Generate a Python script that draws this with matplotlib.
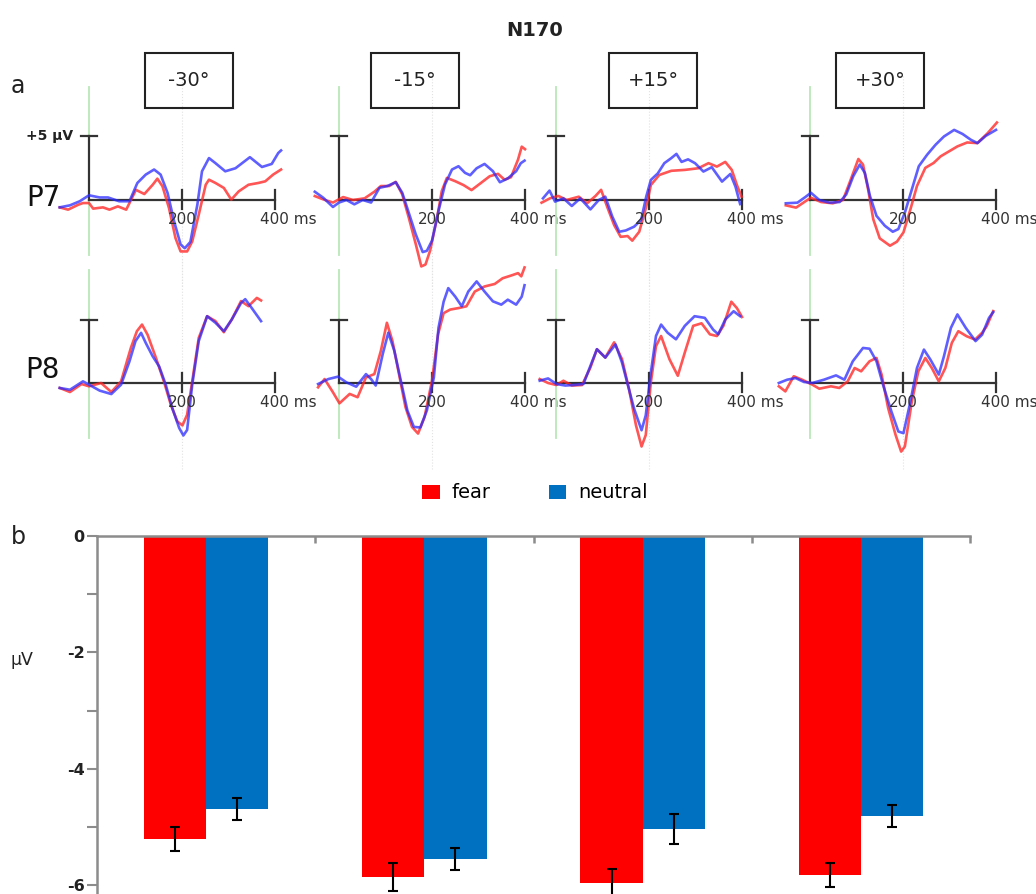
import matplotlib.pyplot as plt
from matplotlib.patches import Rectangle

plt.rcParams['font.family'] = 'DejaVu Sans'
plt.rcParams['axes.unicode_minus'] = False

W, H = 1036, 894

angles = ["-30°", "-15°", "+15°", "+30°"]
sites = ["P7", "P8"]

# ERP waveforms, (ms, µV)
p7_m30_fear = [(-63, -0.58), (-45, -0.76), (-23, -0.37), (-13, -0.24), (0, -0.24), (9, -0.68),
               (30, -0.58), (44, -0.76), (62, -0.5), (80, -0.76), (101, 0.8), (119, 0.47),
               (137, 1.2), (147, 1.68), (158, 1.08), (172, -0.63), (186, -3.0), (197, -4.05),
               (211, -4.05), (222, -3.26), (236, -1.16), (251, 1.2), (258, 1.6), (272, 1.34),
               (290, 0.95), (306, 0.03), (322, 0.68), (343, 1.2), (364, 1.34), (379, 1.47),
               (396, 2.0), (413, 2.4)]
p7_m30_neutral = [(-63, -0.58), (-41, -0.42), (-20, -0.1), (0, 0.37), (23, 0.2), (41, 0.2),
                  (65, -0.1), (87, -0.1), (104, 1.34), (122, 2.0), (140, 2.4), (154, 2.0),
                  (169, 0.55), (183, -1.68), (197, -3.5), (206, -3.8), (218, -3.3), (233, -0.37),
                  (243, 2.26), (258, 3.3), (272, 2.9), (293, 2.26), (315, 2.5), (346, 3.37),
                  (372, 2.6), (393, 2.84), (407, 3.7), (413, 3.9)]
p8_m30_fear = [(-63, -0.39), (-41, -0.71), (-16, -0.08), (0, -0.26), (26, 0.0), (48, -0.71),
               (69, 0.13), (90, 2.76), (103, 4.08), (114, 4.6), (126, 3.8), (144, 1.97),
               (161, 0.13), (176, -1.71), (190, -3.03), (201, -3.34), (211, -2.5), (222, 0.13),
               (236, 3.55), (254, 5.26), (272, 4.87), (290, 4.0), (307, 5.0), (327, 6.45),
               (343, 6.05), (361, 6.7), (370, 6.5)]
p8_m30_neutral = [(-63, -0.39), (-41, -0.53), (-13, 0.13), (0, -0.13), (23, -0.6), (48, -0.87),
                  (69, -0.13), (87, 1.7), (100, 3.3), (112, 3.95), (122, 3.16), (137, 2.1),
                  (151, 1.3), (165, -0.13), (179, -1.97), (194, -3.55), (203, -4.13), (211, -3.7),
                  (222, -0.13), (236, 3.3), (254, 5.26), (272, 4.74), (290, 4.08), (307, 5.0),
                  (327, 6.3), (336, 6.6), (350, 5.9), (370, 4.87)]

p7_m15_fear = [(-52, 0.31), (-34, 0.05), (-13, -0.2), (9, 0.23), (30, 0.0), (55, 0.13),
               (76, 0.65), (90, 1.1), (108, 1.1), (122, 1.43), (136, 0.44), (150, -1.38),
               (165, -3.46), (177, -5.23), (186, -5.08), (196, -3.98), (211, -1.38), (221, 0.7),
               (232, 1.74), (250, 1.48), (268, 1.17), (285, 0.78), (303, 1.28), (324, 1.87),
               (342, 2.06), (356, 1.6), (370, 1.8), (385, 3.18), (393, 4.2), (400, 4.0)]
p7_m15_neutral = [(-52, 0.65), (-34, 0.18), (-13, -0.55), (0, -0.2), (16, 0.0), (33, -0.34),
                  (51, 0.0), (69, -0.2), (87, 0.96), (104, 1.1), (122, 1.4), (136, 0.57),
                  (150, -1.0), (165, -2.7), (180, -4.1), (189, -4.0), (200, -3.2), (214, -0.86),
                  (228, 1.22), (243, 2.4), (257, 2.66), (271, 2.14), (282, 1.95), (296, 2.5),
                  (313, 2.84), (331, 2.27), (346, 1.4), (363, 1.7), (381, 2.27), (391, 2.9),
                  (399, 3.1)]
p8_m15_fear = [(-45, -0.34), (-31, 0.31), (-13, -0.73), (1, -1.6), (23, -0.86), (40, -1.12),
               (58, 0.44), (76, 0.7), (90, 2.53), (103, 4.74), (115, 3.3), (129, 0.7),
               (143, -1.9), (157, -3.46), (170, -3.98), (184, -2.68), (200, 0.18), (213, 3.83),
               (225, 5.5), (239, 5.78), (257, 5.9), (274, 6.04), (292, 7.2), (313, 7.6),
               (335, 7.8), (352, 8.25), (370, 8.46), (385, 8.65), (392, 8.4), (399, 9.1)]
p8_m15_neutral = [(-45, -0.08), (-23, 0.31), (-2, 0.5), (16, 0.05), (37, -0.29), (58, 0.7),
                  (69, 0.31), (79, -0.2), (94, 2.27), (106, 3.96), (119, 2.53), (133, 0.18),
                  (147, -2.16), (161, -3.46), (175, -3.5), (189, -2.16), (204, 0.44), (214, 4.35),
                  (225, 6.4), (235, 7.47), (250, 6.8), (264, 6.04), (278, 7.2), (296, 8.0),
                  (313, 7.2), (331, 6.43), (349, 6.17), (363, 6.56), (381, 6.17), (393, 6.8),
                  (399, 7.7)]

p7_p15_fear = [(-31, -0.21), (-13, 0.13), (5, 0.32), (23, 0.0), (49, 0.26), (67, -0.26),
               (85, 0.32), (97, 0.8), (110, -0.53), (125, -1.97), (139, -2.9), (154, -2.84),
               (164, -3.2), (179, -2.5), (194, -0.53), (204, 1.18), (222, 1.97), (248, 2.3),
               (277, 2.37), (306, 2.5), (328, 2.9), (346, 2.63), (364, 3.0), (378, 2.37),
               (389, 1.18), (399, 0.26)]
p7_p15_neutral = [(-28, 0.13), (-14, 0.74), (-2, -0.13), (16, 0.13), (34, -0.47), (52, 0.13),
                  (74, -0.74), (92, 0.0), (106, 0.26), (121, -1.3), (136, -2.5), (150, -2.4),
                  (168, -2.1), (183, -1.58), (194, 0.26), (204, 1.58), (219, 2.1), (233, 2.9),
                  (248, 3.3), (259, 3.63), (270, 3.0), (284, 3.2), (299, 2.9), (317, 2.24),
                  (335, 2.58), (357, 1.45), (375, 2.05), (386, 1.05), (396, -0.32)]
p8_p15_fear = [(-35, 0.31), (-17, 0.0), (1, -0.16), (16, 0.18), (34, -0.2), (56, -0.16),
               (74, 1.22), (88, 2.66), (106, 2.0), (125, 3.2), (142, 1.87), (157, -0.47),
               (172, -3.33), (184, -5.0), (193, -4.1), (204, 0.05), (215, 2.9), (226, 3.7),
               (244, 1.87), (262, 0.57), (277, 2.4), (295, 4.5), (313, 4.7), (331, 3.83),
               (346, 3.7), (360, 4.5), (377, 6.4), (389, 5.9), (400, 5.2)]
p8_p15_neutral = [(-35, 0.18), (-17, 0.36), (1, -0.08), (20, -0.2), (38, -0.16), (59, -0.08),
                  (74, 1.35), (88, 2.66), (106, 2.0), (128, 3.04), (142, 1.6), (153, 0.05),
                  (168, -2.03), (184, -3.72), (193, -2.55), (204, 0.83), (215, 3.7), (226, 4.6),
                  (240, 3.96), (258, 3.44), (277, 4.5), (298, 5.26), (320, 5.13), (338, 4.2),
                  (349, 3.83), (364, 5.0), (382, 5.65), (396, 5.26)]

p7_p30_fear = [(-52, -0.42), (-30, -0.6), (-9, -0.08), (2, 0.18), (24, -0.16), (49, -0.26),
               (71, 0.0), (85, 1.35), (104, 3.23), (114, 2.79), (125, 0.83), (136, -1.51),
               (150, -3.02), (172, -3.6), (187, -3.28), (201, -2.55), (216, -0.73), (230, 1.1),
               (248, 2.53), (266, 2.92), (281, 3.44), (299, 3.83), (317, 4.22), (338, 4.53),
               (360, 4.48), (382, 5.26), (402, 6.1)]
p7_p30_neutral = [(-52, -0.26), (-27, -0.21), (-9, 0.26), (2, 0.57), (20, 0.0), (42, -0.21),
                  (64, -0.16), (78, 0.44), (93, 1.87), (107, 2.79), (118, 2.13), (129, 0.31),
                  (143, -1.25), (161, -2.03), (178, -2.5), (190, -2.29), (204, -0.99), (219, 0.83),
                  (234, 2.66), (252, 3.57), (270, 4.35), (288, 5.0), (310, 5.52), (328, 5.2),
                  (346, 4.74), (360, 4.48), (378, 5.05), (400, 5.52)]
p8_p30_fear = [(-67, -0.26), (-53, -0.66), (-35, 0.53), (-17, 0.26), (5, -0.13), (20, -0.45),
               (45, -0.26), (63, -0.39), (81, 0.13), (96, 1.18), (110, 0.92), (128, 1.71),
               (143, 1.97), (154, 0.66), (168, -1.97), (184, -4.08), (196, -5.4), (204, -5.0),
               (219, -1.45), (233, 0.92), (248, 1.97), (262, 1.18), (277, 0.13), (291, 1.18),
               (305, 3.16), (319, 4.08), (337, 3.68), (355, 3.42), (370, 3.95), (380, 4.47),
               (394, 5.66)]
p8_p30_neutral = [(-67, 0.0), (-49, 0.26), (-31, 0.39), (-13, 0.08), (5, 0.0), (30, 0.26),
                  (56, 0.6), (74, 0.26), (92, 1.71), (114, 2.76), (128, 2.7), (143, 1.71),
                  (157, -0.13), (175, -2.24), (190, -3.82), (201, -3.95), (216, -1.45), (230, 1.18),
                  (245, 2.63), (259, 1.84), (277, 0.66), (288, 2.1), (303, 4.34), (317, 5.4),
                  (335, 4.34), (356, 3.3), (370, 3.8), (385, 5.13), (394, 5.58)]

erp = {
    ("P7", "-30°"): (p7_m30_fear, p7_m30_neutral),
    ("P8", "-30°"): (p8_m30_fear, p8_m30_neutral),
    ("P7", "-15°"): (p7_m15_fear, p7_m15_neutral),
    ("P8", "-15°"): (p8_m15_fear, p8_m15_neutral),
    ("P7", "+15°"): (p7_p15_fear, p7_p15_neutral),
    ("P8", "+15°"): (p8_p15_fear, p8_p15_neutral),
    ("P7", "+30°"): (p7_p30_fear, p7_p30_neutral),
    ("P8", "+30°"): (p8_p30_fear, p8_p30_neutral),
}

# N170 amplitude (µV) and error bars
fear_mean = [-5.2, -5.85, -5.96, -5.82]
fear_err = [0.2, 0.24, 0.24, 0.2]
neutral_mean = [-4.69, -5.55, -5.03, -4.81]
neutral_err = [0.19, 0.19, 0.26, 0.19]

FEAR_BAR = '#ff0000'
NEUTRAL_BAR = '#0070c0'
FEAR_LINE = '#ff2a2a'
NEUTRAL_LINE = '#2a2aff'
AX_DARK = '#333333'

fig = plt.figure(figsize=(W / 100, H / 100), dpi=100)


def px_axes(left, top, width, height):
    return fig.add_axes([left / W, 1 - (top + height) / H, width / W, height / H])


# ---- panel a: ERP waveforms ----
MS_PX = 0.465
UV_PX = 12.7
T0, T1 = -80, 440
V0, V1 = -7, 10
col_x0 = [89, 339, 556, 810]
row_y0 = [200, 383]


def erp_panel(x0, y0, fear, neutral):
    ax = px_axes(x0 + T0 * MS_PX, y0 - V1 * UV_PX, (T1 - T0) * MS_PX, (V1 - V0) * UV_PX)
    ax.set_xlim(T0, T1)
    ax.set_ylim(V0, V1)
    ax.axis('off')
    ax.patch.set_alpha(0)
    ax.plot([0, 0], [-4.3, 8.9], color='#b8e8b8', lw=1.3)
    ax.plot([200, 200], [-6.8, 9.8], color='#e2e2e2', lw=0.8, ls=':')
    ax.plot([0, 400], [0, 0], color=AX_DARK, lw=1.6)
    ax.plot([0, 0], [0, 5], color=AX_DARK, lw=1.6)
    ax.plot([-18, 18], [5, 5], color=AX_DARK, lw=1.6)
    for t in (200, 400):
        ax.plot([t, t], [-0.7, 0.8], color=AX_DARK, lw=1.6)
    ax.text(200, -1.5, "200", ha='center', va='center', fontsize=11, color=AX_DARK)
    ax.text(368, -1.5, "400 ms", ha='left', va='center', fontsize=11, color=AX_DARK)
    t, v = zip(*fear)
    ax.plot(t, v, color=FEAR_LINE, lw=1.9, alpha=0.8)
    t, v = zip(*neutral)
    ax.plot(t, v, color=NEUTRAL_LINE, lw=1.9, alpha=0.75)
    return ax


for r, site in enumerate(sites):
    for c, ang in enumerate(angles):
        fear, neutral = erp[(site, ang)]
        erp_panel(col_x0[c], row_y0[r], fear, neutral)

# condition boxes
box_cx = [189, 415, 653, 880]
for cx, ang in zip(box_cx, angles):
    fig.patches.append(Rectangle(((cx - 44) / W, 1 - 108 / H), 88 / W, 55 / H,
                                 transform=fig.transFigure, fill=False,
                                 edgecolor='#222222', lw=1.5))
    fig.text(cx / W, 1 - 81 / H, ang, ha='center', va='center', fontsize=14, color='#222222')

fig.text(535 / W, 1 - 30 / H, "N170", ha='center', va='center', fontsize=14,
         fontweight='bold', color='#222222')
fig.text(18 / W, 1 - 86 / H, "a", ha='center', va='center', fontsize=17, color='#222222')
fig.text(43 / W, 1 - 198 / H, "P7", ha='center', va='center', fontsize=20, color='#111111')
fig.text(42 / W, 1 - 370 / H, "P8", ha='center', va='center', fontsize=20, color='#111111')
fig.text(73 / W, 1 - 136 / H, "+5 µV", ha='right', va='center', fontsize=10,
         fontweight='bold', color='#222222')

# ---- panel b: bar chart ----
axb = px_axes(97, 536, 873, 358)
x = range(len(angles))
bw = 0.285
axb.bar([i - bw / 2 for i in x], fear_mean, bw, color=FEAR_BAR, label='fear')
axb.bar([i + bw / 2 for i in x], neutral_mean, bw, color=NEUTRAL_BAR, label='neutral')
axb.errorbar([i - bw / 2 for i in x], fear_mean, yerr=fear_err, fmt='none',
             ecolor='black', elinewidth=1.5, capsize=3.5, capthick=1.5)
axb.errorbar([i + bw / 2 for i in x], neutral_mean, yerr=neutral_err, fmt='none',
             ecolor='black', elinewidth=1.5, capsize=3.5, capthick=1.5)
axb.set_xlim(-0.5, 3.5)
axb.set_ylim(-6.146, 0)
for s in ('bottom', 'right'):
    axb.spines[s].set_visible(False)
for s in ('top', 'left'):
    axb.spines[s].set_color('#8c8c8c')
    axb.spines[s].set_linewidth(1.8)
axb.xaxis.tick_top()
axb.set_xticks([0.5, 1.5, 2.5, 3.5])
axb.set_xticklabels([])
axb.tick_params(axis='x', direction='in', length=5, width=1.8, color='#8c8c8c')
axb.set_yticks([0, -2, -4, -6])
axb.set_yticks([-1, -3, -5], minor=True)
axb.tick_params(axis='y', which='both', direction='out', length=7, width=1.5,
                color='#8c8c8c', pad=2)
for lab in axb.get_yticklabels():
    lab.set_fontsize(11.5)
    lab.set_fontweight('bold')
    lab.set_color('#222222')

fig.text(18 / W, 1 - 537 / H, "b", ha='center', va='center', fontsize=17, color='#222222')
fig.text(22 / W, 1 - 660 / H, "µV", ha='center', va='center', fontsize=12.5, color='#222222')

fig.legend(loc='center', bbox_to_anchor=(535 / W, 1 - 493 / H), ncol=2, frameon=False,
           fontsize=14, handlelength=0.9, handleheight=0.7, columnspacing=3.0,
           handletextpad=0.6)

fig.savefig('out.png', dpi=100)
